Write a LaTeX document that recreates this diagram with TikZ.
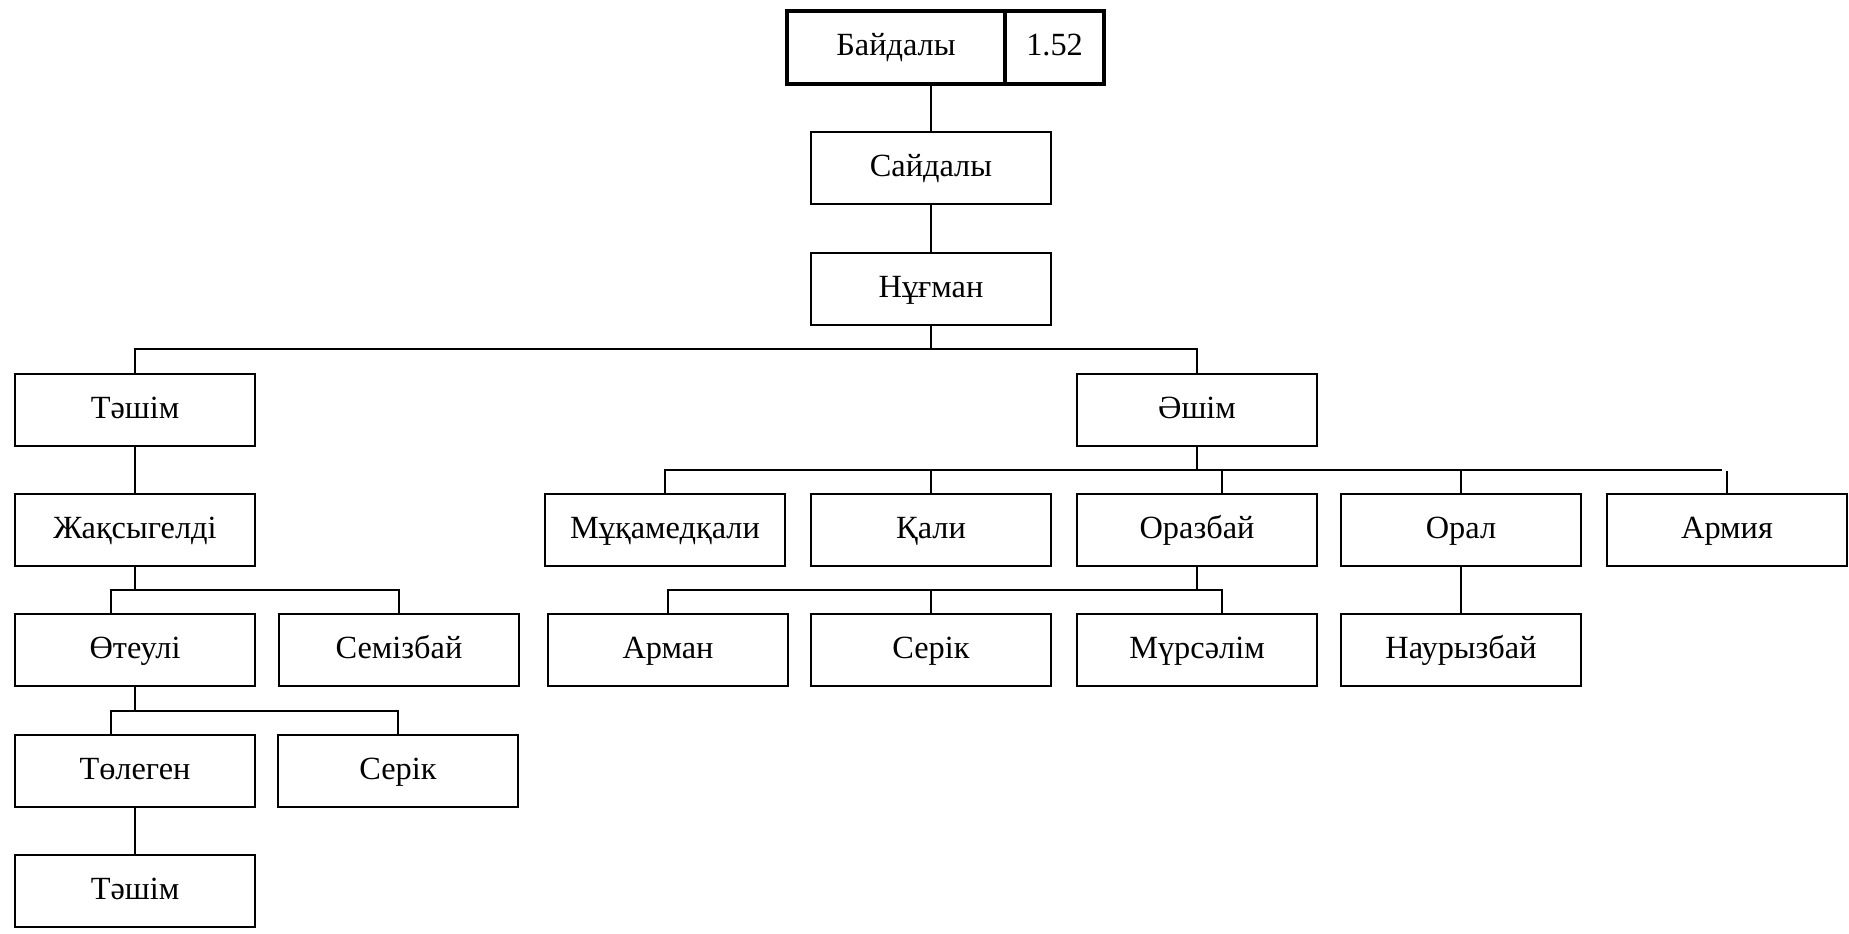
\documentclass[tikz,border=0pt]{standalone}
\usepackage{fontspec}
\setmainfont{Liberation Serif}
\usetikzlibrary{calc}
\tikzset{person/.style={draw=black,line width=0.4pt,minimum width=2.4cm,minimum height=0.72cm,inner sep=0pt,outer sep=0pt,text height=0.68em,text depth=0.22em,font=\fontsize{9.2}{11}\selectfont}}
\tikzset{head/.style={person,line width=1pt,minimum height=0.73cm}}
\newcommand*{\Shift}{25}

\begin{document}
\begin{tikzpicture}[x=0.01cm,y=-0.01cm,line width=0.4pt]
\useasboundingbox (0,0) rectangle (1849,933);

% top of the tree
\node[head,minimum width=2.18cm] (baidaly) at (896,47.5) {Байдалы};
\node[head,minimum width=0.99cm,anchor=west] (code) at (baidaly.east) {1.52};
\node[person] (saidaly) at (931,168) {Сайдалы};
\node[person] (nugman) at (931,289) {Нұғман};

% left branch
\node[person] (tashim) at (135,410) {Тәшім};
\node[person] (zhaksygeldi) at (135,530) {Жақсыгелді};
\node[person] (oteuli) at (135,650) {Өтеулі};
\node[person] (semizbai) at (399,650) {Семізбай};
\node[person] (tolegen) at (135,771) {Төлеген};
\node[person] (serikA) at (398,771) {Серік};
\node[person] (tashimB) at (135,891) {Тәшім};

% right branch
\node[person] (ashim) at (1197,410) {Әшім};
\node[person] (mukamedkali) at (665,530) {Мұқамедқали};
\node[person] (kali) at (931,530) {Қали};
\node[person] (orazbai) at (1197,530) {Оразбай};
\node[person] (oral) at (1461,530) {Орал};
\node[person] (armiya) at (1727,530) {Армия};
\node[person] (arman) at (668,650) {Арман};
\node[person] (serikB) at (931,650) {Серік};
\node[person] (mursalim) at (1197,650) {Мүрсәлім};
\node[person] (nauryzbai) at (1461,650) {Наурызбай};

% bus lines
\coordinate (bus1) at (0,349);
\coordinate (bus2) at (0,590);
\coordinate (bus3) at (0,711);
\coordinate (bus4) at (0,470);
\coordinate (bus5) at (0,590);

\draw (saidaly.north |- baidaly.south) -- (saidaly.north);
\draw (saidaly) -- (nugman);
\draw (nugman.south) -- (nugman.south |- bus1);
\draw (tashim.north) |- (bus1 -| ashim) -- (ashim.north);

\draw (tashim) -- (zhaksygeldi);
\draw (zhaksygeldi.south) -- (zhaksygeldi.south |- bus2);
\draw ($(oteuli.north)+(-24,0)$) |- (bus2 -| semizbai) -- (semizbai.north);
\draw (oteuli.south) -- (oteuli.south |- bus3);
\draw ($(tolegen.north)+(-24,0)$) |- (bus3 -| serikA) -- (serikA.north);
\draw (tolegen) -- (tashimB);

\draw (ashim.south) -- (ashim.south |- bus4);
\draw (mukamedkali.north) |- ($(bus4 -| armiya)+(-5,0)$);
\foreach \n in {kali,oral} {%
    \draw (\n.north) -- (\n.north |- bus4);
}
\draw ($(orazbai.north)+(\Shift,0)$) -- ($(orazbai.north |- bus4)+(\Shift,0)$);
\draw (armiya.north) -- ($(armiya.north |- bus4)+(0,1)$);

\draw (orazbai.south) -- (orazbai.south |- bus5);
\draw (arman.north) |- ($(bus5 -| mursalim)+(\Shift,0)$) -- ($(mursalim.north)+(\Shift,0)$);
\draw (serikB.north) -- (serikB.north |- bus5);
\draw (oral) -- (nauryzbai);

\end{tikzpicture}
\end{document}
